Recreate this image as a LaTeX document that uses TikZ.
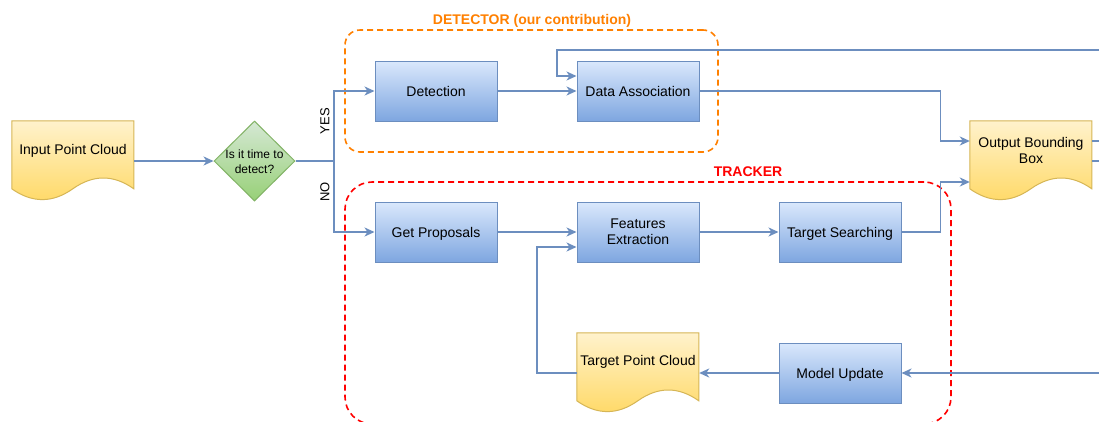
\documentclass[tikz,border=0pt]{standalone}
\usepackage{fontspec}
\setmainfont{Liberation Sans}
\usetikzlibrary{arrows.meta,shapes.geometric,calc}
\definecolor{connc}{HTML}{6C8EBF}
\definecolor{bTop}{HTML}{DAE8FC}
\definecolor{bBot}{HTML}{7EA6E0}
\definecolor{bBorder}{HTML}{6C8EBF}
\definecolor{yTop}{HTML}{FFF2CC}
\definecolor{yBot}{HTML}{FFD966}
\definecolor{yBorder}{HTML}{D6B656}
\definecolor{gTop}{HTML}{D5E8D4}
\definecolor{gBot}{HTML}{97D077}
\definecolor{gBorder}{HTML}{82B366}
\definecolor{detOrange}{HTML}{FF8000}
\definecolor{trkRed}{HTML}{FF0000}
\newcommand{\mydocshape}[1]{%
  \begin{scope}[shift={(#1.north west)}]
    \shade[top color=yTop, bottom color=yBot, draw=yBorder, line width=1pt]
      (0,0) -- (122,0) -- (122,68)
      .. controls (101.67,53.6) and (81.33,53.6) .. (61,68)
      .. controls (40.67,82.4) and (20.33,82.4) .. (0,68) -- cycle;
  \end{scope}}
\begin{document}
\begin{tikzpicture}[x=1pt,y=-1pt,
  txt/.style={font=\fontsize{14}{16}\selectfont, align=center, inner sep=0pt},
  oneline/.style={text height=10pt, text depth=0pt},
  bluebox/.style={txt, rectangle, top color=bTop, bottom color=bBot, draw=bBorder, line width=1pt,
    minimum width=122pt, minimum height=60pt},
  docnode/.style={rectangle, draw=none, minimum width=122pt, minimum height=80pt, inner sep=0pt},
  conn/.style={draw=connc, line width=1.8pt},
  arr/.style={conn, -{Stealth[length=10pt,width=9pt,inset=3pt]}},
  groupbox/.style={draw, dashed, line width=1.6pt, dash pattern=on 6pt off 4pt, inner sep=0pt},
  grouplabel/.style={font=\fontsize{14}{16}\selectfont\bfseries, inner sep=0pt}
]
\useasboundingbox[fill=white] (0,0) rectangle (1099,421);

% group boxes
\node[groupbox, draw=detOrange, rounded corners=15pt, minimum width=373pt, minimum height=122pt] (detbox) at (531.5,91) {};
\node[grouplabel, text=detOrange] (detlab) at (532,21) {DETECTOR (our contribution)};
\node[groupbox, draw=trkRed, rounded corners=27pt, minimum width=606pt, minimum height=242pt] (trkbox) at (648,303) {};
\node[grouplabel, text=trkRed] (trklab) at (748,172) {TRACKER};

% document nodes
\node[docnode] (in) at (73,161) {};
\mydocshape{in}
\node[txt] (inl) at (73,151) {Input Point Cloud};

\node[docnode] (out) at (1031,161) {};
\mydocshape{out}
\node[txt] (outl) at (1031,150.5) {Output Bounding\\Box};

\node[docnode] (tpc) at (638,373) {};
\mydocshape{tpc}
\node[txt] (tpcl) at (638,362) {Target Point Cloud};

% decision
\node[diamond, aspect=1, top color=gTop, bottom color=gBot, draw=gBorder, line width=1pt,
  minimum width=81pt, minimum height=80pt, inner sep=0pt] (dia) at (254.5,161) {};
\node[font=\fontsize{12}{15}\selectfont, align=center, inner sep=0pt] (dial) at (254.5,162) {Is it time to\\detect?};

% process boxes
\node[bluebox, oneline] (det) at (436,91) {Detection};
\node[bluebox, oneline] (da) at (638,91) {Data Association};
\node[bluebox, oneline] (gp) at (436,232) {Get Proposals};
\node[bluebox] (fe) at (638,232) {Features\\Extraction};
\node[bluebox, oneline] (ts) at (840,232) {Target Searching};
\node[bluebox, oneline] (mu) at (840,373) {Model Update};

% free ends
\coordinate (br) at (334,161);
\coordinate (eTop) at (1099,50);
\coordinate (eO1) at (1099,141);
\coordinate (eO2) at (1099,161);
\coordinate (eBot) at (1099,373);

% connectors
\draw[arr] (in.east) -- (dia.west);
\draw[conn] (dia.east) -- (br);
\draw[arr] (br) |- (det.west);
\draw[arr] (br) |- (gp.west);
\node[font=\fontsize{13}{15}\selectfont, rotate=90, inner sep=0pt] (yes) at (325,121) {YES};
\node[font=\fontsize{13}{15}\selectfont, rotate=90, inner sep=0pt] (no) at (325,192) {NO};

\draw[arr] (det.east) -- (da.west);
\draw[arr] (eTop) -- (557,50) |- ([yshift=15pt]da.west);
\draw[arr] (da.east) -- ++(241,0) |- ([yshift=20pt]out.west);
\draw[arr] (ts.east) -- ++(39,0) |- ([yshift=-21pt]out.west);
\draw[conn] ([yshift=20pt]out.east) -- (eO1);
\draw[conn] (out.east) -- (eO2);

\draw[arr] (gp.east) -- (fe.west);
\draw[arr] (fe.east) -- (ts.west);
\draw[arr] (eBot) -- (mu.east);
\draw[arr] (mu.west) -- (tpc.east);
\draw[arr] (tpc.west) -- ++(-40,0) |- ([yshift=-15pt]fe.west);
\end{tikzpicture}
\end{document}
